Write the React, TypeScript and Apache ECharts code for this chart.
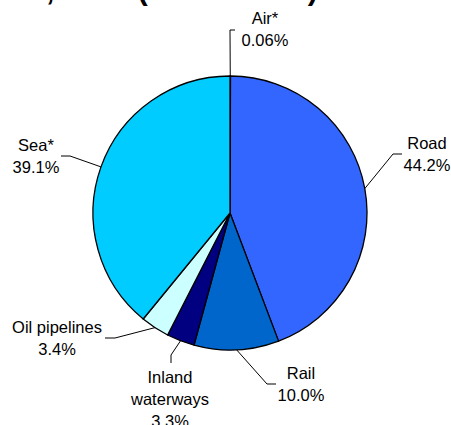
import React, { useEffect, useRef } from "react";
import * as echarts from "echarts";

// Freight transport modal split (% of tonne-km)
const modes = ["Air*", "Road", "Rail", "Inland\nwaterways", "Oil pipelines", "Sea*"];
const shares = [0.06, 44.2, 10.0, 3.3, 3.4, 39.1];
const sliceColors = ["#FFFFFF", "#3366FF", "#0066CC", "#000080", "#CCFFFF", "#00CCFF"];
const titleLine = "EU-27, 2006 (in % of tkm)";

// Label block centres and leader-line elbows/ends, one per mode
const labelSpots = [
  { cx: 265, cy: 29, elbow: [230, 30], end: [235, 30] },
  { cx: 427, cy: 154, elbow: [393, 154], end: [402, 154] },
  { cx: 301, cy: 384, elbow: [267, 384], end: [276, 384] },
  { cx: 170, cy: 399, elbow: [171, 355], end: [171, 363] },
  { cx: 57, cy: 338, elbow: [115, 338], end: [105, 338] },
  { cx: 36, cy: 156, elbow: [70, 156], end: [61, 156] },
];

const FONT = 'Arial, "Liberation Sans", sans-serif';

function formatShare(v: number): string {
  return v < 0.1 ? v.toFixed(2) : v.toFixed(1);
}

export default function App() {
  const ref = useRef<HTMLDivElement>(null);

  useEffect(() => {
    if (!ref.current) return;
    const chart = echarts.init(ref.current, undefined, { renderer: "svg" });
    chart.setOption({
      animation: false,
      graphic: [
        {
          type: "text",
          x: -39,
          y: -26,
          silent: true,
          style: {
            text: titleLine,
            font: `bold 30px ${FONT}`,
            fill: "#000",
          },
        },
      ],
      series: [
        {
          type: "pie",
          center: [230, 213],
          radius: 137,
          startAngle: 90,
          clockwise: true,
          avoidLabelOverlap: false,
          data: modes.map((name, i) => ({
            name,
            value: shares[i],
            itemStyle: { color: sliceColors[i] },
          })),
          itemStyle: { borderColor: "#000", borderWidth: 1.3 },
          emphasis: { disabled: true },
          label: {
            show: true,
            position: "outside",
            formatter: (p: any) => `${p.name}\n${formatShare(p.value)}%`,
            color: "#000",
            fontSize: 16.5,
            lineHeight: 22,
            fontFamily: FONT,
            align: "center",
          },
          labelLine: {
            show: true,
            lineStyle: { color: "#000", width: 1 },
          },
          labelLayout: (params: any) => {
            const s = labelSpots[params.dataIndex];
            const pts = params.labelLinePoints;
            const start = pts && pts[0] ? pts[0] : s.elbow;
            return {
              x: s.cx,
              y: s.cy,
              align: "center",
              verticalAlign: "middle",
              labelLinePoints: [start, s.elbow, s.end],
            };
          },
        },
      ],
    });
    return () => chart.dispose();
  }, []);

  return (
    <div
      ref={ref}
      style={{ position: "absolute", left: 0, top: 0, width: 451, height: 425 }}
    />
  );
}
